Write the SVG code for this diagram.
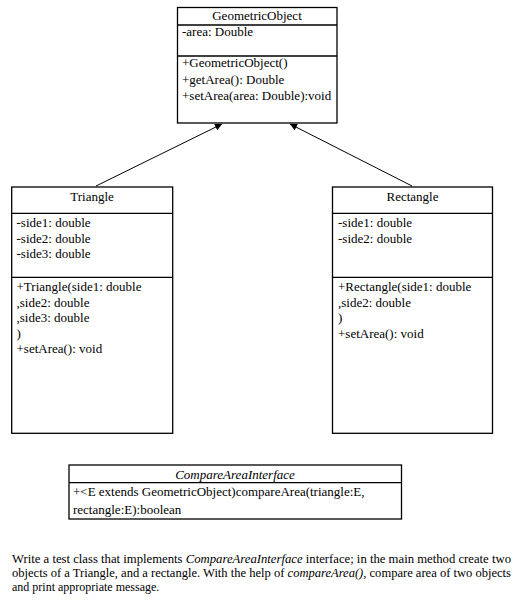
<svg xmlns="http://www.w3.org/2000/svg" width="516" height="603" viewBox="0 0 516 603">
<style>
text{font-family:"Liberation Serif","Times New Roman",serif;font-size:13px;fill:#000}
.c{text-anchor:middle}
.i{font-style:italic}
.p{font-size:12px}
.b{fill:#fff;stroke:#000;stroke-width:1.3}
.l{stroke:#000;stroke-width:1.3}
.a{stroke:#000;stroke-width:1;fill:none}
</style>
<defs>
<marker id="ah" viewBox="0 0 10 10" refX="10" refY="5" markerWidth="7" markerHeight="7" markerUnits="userSpaceOnUse" orient="auto">
<path d="M0,0 L10,5 L0,10 z" fill="#000"/>
</marker>
</defs>
<rect width="516" height="603" fill="#fff"/>
<g id="connectors">
<line class="a" x1="96" y1="186" x2="222" y2="124" marker-end="url(#ah)"/>
<line class="a" x1="412" y1="186" x2="290" y2="124" marker-end="url(#ah)"/>
</g>
<g id="GeometricObject">
<rect class="b" x="177.5" y="7.5" width="159.5" height="115.5"/>
<line class="l" x1="177.5" y1="25" x2="337" y2="25"/>
<line class="l" x1="177.5" y1="56" x2="337" y2="56"/>
<text class="c" x="257" y="20">GeometricObject</text>
<text x="182" y="36">-area: Double</text>
<text x="182" y="67">+GeometricObject()</text>
<text x="182" y="84">+getArea(): Double</text>
<text x="182" y="100">+setArea(area: Double):void</text>
</g>
<g id="Triangle">
<rect class="b" x="11.7" y="187" width="161" height="246.3"/>
<line class="l" x1="11.7" y1="213.3" x2="172.7" y2="213.3"/>
<line class="l" x1="11.7" y1="277.3" x2="172.7" y2="277.3"/>
<text class="c" x="92" y="201">Triangle</text>
<text x="16.5" y="227">-side1: double</text>
<text x="16.5" y="242.5">-side2: double</text>
<text x="16.5" y="258">-side3: double</text>
<text x="16.5" y="291">+Triangle(side1: double</text>
<text x="16.5" y="306.5">,side2: double</text>
<text x="16.5" y="322">,side3: double</text>
<text x="16.5" y="337.5">)</text>
<text x="16.5" y="353">+setArea(): void</text>
</g>
<g id="Rectangle">
<rect class="b" x="332.5" y="187" width="160" height="246.3"/>
<line class="l" x1="332.5" y1="213.3" x2="492.5" y2="213.3"/>
<line class="l" x1="332.5" y1="277.3" x2="492.5" y2="277.3"/>
<text class="c" x="412.5" y="201">Rectangle</text>
<text x="338" y="227">-side1: double</text>
<text x="338" y="242.5">-side2: double</text>
<text x="338" y="291">+Rectangle(side1: double</text>
<text x="338" y="306.5">,side2: double</text>
<text x="338" y="322">)</text>
<text x="338" y="337.5">+setArea(): void</text>
</g>
<g id="CompareAreaInterface">
<rect class="b" x="69" y="465" width="332.5" height="54"/>
<line class="l" x1="69" y1="482.7" x2="401.5" y2="482.7"/>
<text class="c i" x="235" y="479">CompareAreaInterface</text>
<text x="73" y="495.5">+&lt;E extends GeometricObject)compareArea(triangle:E,</text>
<text x="73" y="513.5">rectangle:E):boolean</text>
</g>
<g id="description">
<text class="p" x="12" y="563" textLength="499" lengthAdjust="spacingAndGlyphs">Write a test class that implements <tspan class="i">CompareAreaInterface</tspan> interface; in the main method create two</text>
<text class="p" x="12" y="577" textLength="499" lengthAdjust="spacingAndGlyphs">objects of a Triangle, and a rectangle. With the help of <tspan class="i">compareArea(),</tspan> compare area of two objects</text>
<text class="p" x="12" y="591">and print appropriate message.</text>
</g>
</svg>
